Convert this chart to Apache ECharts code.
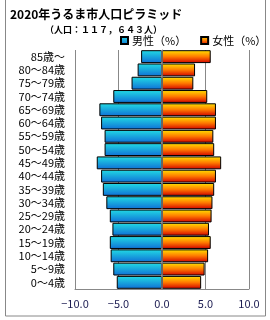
<!DOCTYPE html>
<html><head><meta charset="utf-8">
<script src="https://cdn.jsdelivr.net/npm/echarts@6/dist/echarts.min.js"></script>
<style>html,body{margin:0;padding:0;background:#fff}#c{width:270px;height:320px}</style>
</head><body><div id="c"></div>
<script>
const categories = ["85歳～","80～84歳","75～79歳","70～74歳","65～69歳","60～64歳","55～59歳","50～54歳","45～49歳","40～44歳","35～39歳","30～34歳","25～29歳","20～24歳","15～19歳","10～14歳","5～9歳","0～4歳"];
const maleValues = [-2.4,-2.8,-3.5,-5.6,-7.2,-7.0,-6.6,-6.6,-7.5,-7.0,-6.8,-6.4,-6.0,-5.7,-6.0,-5.9,-5.6,-5.2];
const femaleValues = [5.6,3.8,3.6,5.2,6.2,6.2,5.9,6.0,6.8,6.2,6.0,5.8,5.7,5.4,5.6,5.3,4.9,4.5];
const xTicks = [-10,-5,0,5,10];
const title = "2020年うるま市人口ピラミッド";
const subtitle = "（人口：１１７，６４３人）";
const seriesNames = ["男性（%）","女性（%）"];

const chart = echarts.init(document.getElementById('c'), null, {renderer:'canvas'});
const font = '"Noto Sans CJK JP", sans-serif';
const maleGrad = new echarts.graphic.LinearGradient(0,0,0,1,[{offset:0,color:'#22dce4'},{offset:1,color:'#0f6fd6'}]);
const femaleGrad = new echarts.graphic.LinearGradient(0,0,0,1,[{offset:0,color:'#ffe400'},{offset:0.5,color:'#ff7a00'},{offset:1,color:'#d00000'}]);
chart.setOption({
  animation:false,
  textStyle:{fontFamily:font},
  title:[
    {text:title,left:5,top:3,textStyle:{fontSize:12,fontWeight:'bold',color:'#000',fontFamily:font}},
    {text:subtitle,left:40,top:20,textStyle:{fontSize:9,fontWeight:'bold',color:'#000',fontFamily:font}}
  ],
  legend:{
    top:30,left:115,width:160,orient:'horizontal',itemWidth:7,itemHeight:7,itemGap:14,icon:'rect',
    textStyle:{fontSize:11,color:'#000',fontFamily:font,padding:[0,0,0,-1]},
    data:seriesNames
  },
  grid:{left:75,right:21,top:50,bottom:31},
  xAxis:{type:'value',min:-10,max:10,interval:5,
    axisLine:{show:true,lineStyle:{color:'#888',width:1}},
    axisTick:{show:false},
    splitLine:{show:true,lineStyle:{color:'#888',width:1}},
    axisLabel:{margin:9,fontSize:11,color:'#1a1a50',fontFamily:font,
      formatter:v=>(v<0?'−':'')+Math.abs(v).toFixed(1)}
  },
  yAxis:{type:'category',data:categories,inverse:true,
    axisLine:{show:true,lineStyle:{color:'#888',width:1}},
    axisTick:{show:false},
    axisLabel:{interval:0,fontSize:11,color:'#000',margin:10,fontFamily:font}
  },
  graphic:[{type:'rect',shape:{x:5.5,y:-1,width:260,height:317},style:{fill:'none',stroke:'#888',lineWidth:1},z:-1}],
  series:[
    {name:seriesNames[0],type:'bar',data:maleValues,barGap:'-100%',barCategoryGap:'3%',
      itemStyle:{color:maleGrad,borderColor:'#000',borderWidth:1},
      markLine:{silent:true,symbol:'none',label:{show:false},lineStyle:{color:'#888',type:'solid',width:1.5},data:[{xAxis:0}],z:10}
    },
    {name:seriesNames[1],type:'bar',data:femaleValues,barCategoryGap:'3%',
      itemStyle:{color:femaleGrad,borderColor:'#000',borderWidth:1}}
  ]
});
</script></body></html>
